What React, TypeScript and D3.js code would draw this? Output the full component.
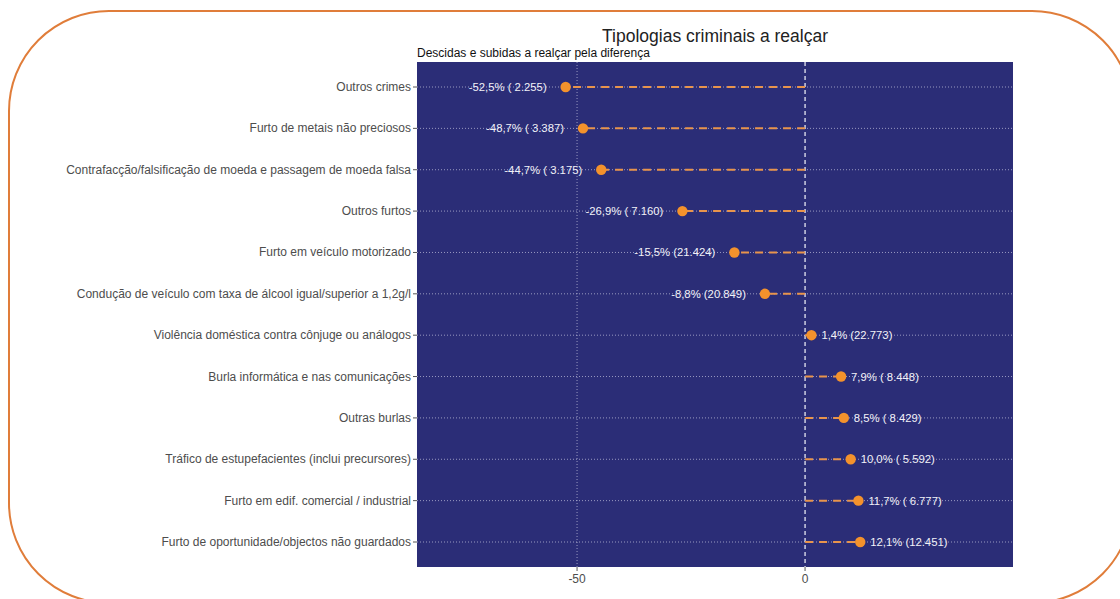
import React from "react";
import * as d3 from "d3";

const categories = [
  "Outros crimes",
  "Furto de metais não preciosos",
  "Contrafacção/falsificação de moeda e passagem de moeda falsa",
  "Outros furtos",
  "Furto em veículo motorizado",
  "Condução de veículo com taxa de álcool igual/superior a 1,2g/l",
  "Violência doméstica contra cônjuge ou análogos",
  "Burla informática e nas comunicações",
  "Outras burlas",
  "Tráfico de estupefacientes (inclui precursores)",
  "Furto em edif. comercial / industrial",
  "Furto de oportunidade/objectos não guardados",
];
const changes = [-52.5, -48.7, -44.7, -26.9, -15.5, -8.8, 1.4, 7.9, 8.5, 10.0, 11.7, 12.1];
const changeLabels = ["-52,5%", "-48,7%", "-44,7%", "-26,9%", "-15,5%", "-8,8%", "1,4%", "7,9%", "8,5%", "10,0%", "11,7%", "12,1%"];
const countLabels = ["( 2.255)", "( 3.387)", "( 3.175)", "( 7.160)", "(21.424)", "(20.849)", "(22.773)", "( 8.448)", "( 8.429)", "( 5.592)", "( 6.777)", "(12.451)"];
const xTicks = [-50, 0];
const title = "Tipologias criminais a realçar";
const subtitle = "Descidas e subidas a realçar pela diferença";

const W = 1120;
const H = 599;
const panel = { left: 417, right: 1013, top: 62, bottom: 567 };
const FONT = "'Liberation Sans', Arial, sans-serif";

export default function App() {
  const x = d3.scaleLinear().domain([-85.1, 45.6]).range([panel.left, panel.right]);
  const y = d3.scalePoint<string>().domain(categories).range([87, 542]);

  return (
    <svg
      width={W}
      height={H}
      style={{ position: "absolute", left: 0, top: 0, background: "#ffffff" }}
      fontFamily={FONT}
    >
      <rect x={9} y={11} width={1123} height={592} rx={100} ry={100} fill="#ffffff" stroke="#e07d3a" strokeWidth={2} />

      <text x={715} y={42} textAnchor="middle" fontSize={17.5} fill="#222">{title}</text>
      <text x={panel.left} y={57} fontSize={12} fill="#111">{subtitle}</text>

      <rect
        x={panel.left}
        y={panel.top}
        width={panel.right - panel.left}
        height={panel.bottom - panel.top}
        fill="#2b2d77"
      />

      {categories.map((c) => (
        <line
          key={"hg" + c}
          x1={panel.left}
          x2={panel.right}
          y1={y(c)}
          y2={y(c)}
          stroke="#c8c8e0"
          strokeOpacity={0.7}
          strokeWidth={1}
          strokeDasharray="1,2"
        />
      ))}
      {xTicks.filter((t) => t !== 0).map((t) => (
        <line
          key={"vg" + t}
          x1={x(t)}
          x2={x(t)}
          y1={panel.top}
          y2={panel.bottom}
          stroke="#c8c8e0"
          strokeOpacity={0.7}
          strokeWidth={1}
          strokeDasharray="1,2"
        />
      ))}
      <line
        x1={x(0)}
        x2={x(0)}
        y1={panel.top}
        y2={panel.bottom}
        stroke="#e6e6f2"
        strokeWidth={1.3}
        strokeDasharray="4,3"
      />

      {categories.map((c, i) => (
        <line
          key={"seg" + c}
          x1={x(0)}
          x2={x(changes[i])}
          y1={y(c)}
          y2={y(c)}
          stroke="#e8944c"
          strokeWidth={2}
          strokeDasharray="8,6"
        />
      ))}

      {categories.map((c, i) => (
        <circle key={"dot" + c} cx={x(changes[i])} cy={y(c)} r={5.2} fill="#f4922c" />
      ))}

      {categories.map((c, i) => {
        const neg = changes[i] < 0;
        return (
          <text
            key={"lab" + c}
            x={neg ? x(changes[i]) - 19 : x(changes[i]) + 10}
            y={(y(c) as number) + 4}
            textAnchor={neg ? "end" : "start"}
            fontSize={11.3}
            fill="#f2f2f8"
            style={{ whiteSpace: "pre" }}
          >
            {changeLabels[i] + " " + countLabels[i]}
          </text>
        );
      })}

      {categories.map((c) => (
        <g key={"yt" + c}>
          <line x1={panel.left - 4} x2={panel.left} y1={y(c)} y2={y(c)} stroke="#555" strokeWidth={1} />
          <text x={panel.left - 6} y={(y(c) as number) + 4} textAnchor="end" fontSize={12} fill="#4d4d4d">
            {c}
          </text>
        </g>
      ))}

      {xTicks.map((t) => (
        <g key={"xt" + t}>
          <line x1={x(t)} x2={x(t)} y1={panel.bottom} y2={panel.bottom + 4} stroke="#555" strokeWidth={1} />
          <text x={x(t)} y={panel.bottom + 16} textAnchor="middle" fontSize={12} fill="#4d4d4d">
            {t}
          </text>
        </g>
      ))}
    </svg>
  );
}
